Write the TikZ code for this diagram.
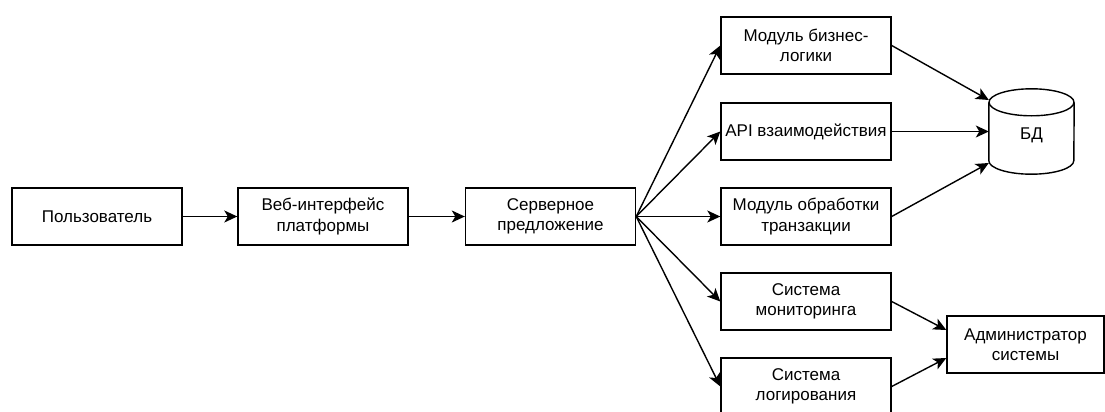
\documentclass[tikz,border=0pt]{standalone}
\usepackage{fontspec}
\setmainfont{Liberation Sans}
\usetikzlibrary{arrows.meta,calc}
\begin{document}
\begin{tikzpicture}[x=1pt,y=-1pt,
  box/.style={draw=black, line width=1.4pt, minimum width=170pt, minimum height=57pt,
    align=center, inner sep=0pt, font=\fontsize{17}{20.4}\selectfont},
  plain/.style={align=center, inner sep=0pt, font=\fontsize{17}{20.4}\selectfont},
  arr/.style={line width=1.4pt, -{Stealth[length=13pt,width=12pt,inset=3.5pt]}}]
\fill[white] (0,0) rectangle (1105,412);
\useasboundingbox (0,0) rectangle (1105,412);

\node[box] (user) at (97,216.5) {Пользователь};
\node[box] (web) at (323,216.5) {Веб-интерфейс\\платформы};
\node[box] (srv) at (550.5,216.5) {Серверное\\предложение};
\node[box] (biz) at (806,45.5) {Модуль бизнес-\\логики};
\node[box] (api) at (806,131.5) {API взаимодействия};
\node[box] (tx) at (806,216.5) {Модуль обработки\\транзакции};
\node[box] (mon) at (806,301.5) {Система\\мониторинга};
\node[box] (log) at (806,386.5) {Система\\логирования};
\node[box, minimum width=157pt] (admin) at (1025.5,344.5) {Администратор\\системы};

% database cylinder
\node[plain, minimum width=85pt, minimum height=85pt] (db) at (1031.5,131.5) {};
\draw[line width=1.4pt, fill=white]
  ($(db.north west)+(0,13.5)$) -- ($(db.south west)+(0,-13.5)$)
  arc[start angle=180, end angle=360, x radius=42.5pt, y radius=13.5pt]
  -- ($(db.north east)+(0,13.5)$);
\draw[line width=1.4pt] ($(db.north)+(0,13.5)$) ellipse [x radius=42.5pt, y radius=13.5pt];
\node[plain] (dblabel) at (1031.5,135) {БД};
\coordinate (dbin1) at ($(db.west)+(0,-31.5)$);
\coordinate (dbin3) at ($(db.west)+(0,31.5)$);
\coordinate (adin1) at ($(admin.west)+(0,-14.5)$);
\coordinate (adin2) at ($(admin.west)+(0,13.5)$);

\draw[arr] (user.east) -- (web.west);
\draw[arr] (web.east) -- (srv.west);
\draw[arr] (srv.east) -- (biz.west);
\draw[arr] (srv.east) -- (api.west);
\draw[arr] (srv.east) -- (tx.west);
\draw[arr] (srv.east) -- (mon.west);
\draw[arr] (srv.east) -- (log.west);
\draw[arr] (biz.east) -- (dbin1);
\draw[arr] (api.east) -- (db.west);
\draw[arr] (tx.east) -- (dbin3);
\draw[arr] (mon.east) -- (adin1);
\draw[arr] (log.east) -- (adin2);
\end{tikzpicture}
\end{document}
